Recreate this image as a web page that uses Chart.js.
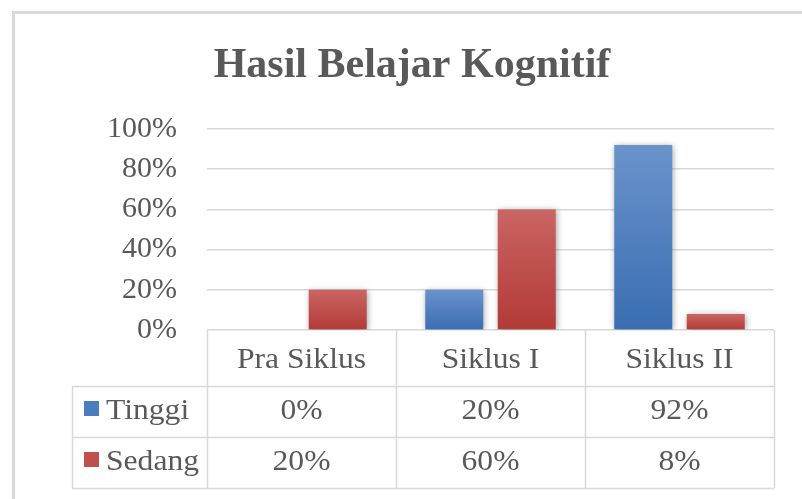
<!DOCTYPE html>
<html lang="id">
<head>
<meta charset="utf-8">
<title>Hasil Belajar Kognitif</title>
<script src="https://cdn.jsdelivr.net/npm/chart.js"></script>
<style>
  html, body { margin: 0; padding: 0; background: #fff; }
  #wrap { width: 802px; height: 499px; }
</style>
</head>
<body>
<div id="wrap"><canvas id="myChart" width="802" height="499"></canvas></div>
<script>
const chartTitle = 'Hasil Belajar Kognitif';
const categories = ['Pra Siklus', 'Siklus I', 'Siklus II'];
const seriesNames = ['Tinggi', 'Sedang'];
const tinggi = [0, 0.20, 0.92];
const sedang = [0.20, 0.60, 0.08];
const yTickValues = [0, 0.2, 0.4, 0.6, 0.8, 1.0];

const grey = '#595959';
const lineGrey = '#d9d9d9';
const serif = "'Liberation Serif', 'Times New Roman', serif";

function pct(v) {
    return Math.round(v * 100) + '%';
}

// each bar gets its own light-to-dark gradient, like the office chart
function barGradient(top, bottom) {
    return function (ctx) {
        const chart = ctx.chart;
        if (!chart.chartArea || ctx.type !== 'data') return bottom;
        const y = chart.scales.y;
        const y0 = y.getPixelForValue(ctx.raw);
        const y1 = y.getPixelForValue(0);
        if (y1 - y0 < 1) return bottom;
        const g = chart.ctx.createLinearGradient(0, y0, 0, y1);
        g.addColorStop(0, top);
        g.addColorStop(1, bottom);
        return g;
    };
}

// table text in the source is a little wider than Liberation Serif
function wideText(c, text, x, y, align) {
    const sx = 1.09;
    c.save();
    c.translate(x, y);
    c.scale(sx, 1);
    c.textAlign = align;
    c.fillText(text, 0, 0);
    c.restore();
}

const frameAndTable = {
    id: 'frameAndTable',
    beforeDraw(chart) {
        const c = chart.ctx;
        c.save();
        c.fillStyle = lineGrey;
        c.fillRect(12, 11, 3, chart.height - 11);
        c.fillRect(12, 11, chart.width - 12, 3);
        c.fillStyle = grey;
        c.font = 'bold 42px ' + serif;
        c.textAlign = 'center';
        c.textBaseline = 'alphabetic';
        c.fillText(chartTitle, 412, 77);
        c.restore();
    },
    beforeDatasetsDraw(chart) {
        const c = chart.ctx;
        c.save();
        c.shadowColor = 'rgba(0,0,0,0.35)';
        c.shadowBlur = 6;
        c.shadowOffsetX = 1;
        c.shadowOffsetY = 1;
    },
    afterDatasetsDraw(chart) {
        chart.ctx.restore();
    },
    afterDraw(chart) {
        const c = chart.ctx;
        const area = chart.chartArea;
        const x = chart.scales.x;
        const colW = (area.right - area.left) / categories.length;
        const tableLeft = 72;
        const rowY = [area.bottom, area.bottom + 56, area.bottom + 107, area.bottom + 158];

        c.save();
        c.strokeStyle = lineGrey;
        c.lineWidth = 1.5;
        c.beginPath();
        // column lines
        for (let i = 0; i <= categories.length; i++) {
            const px = Math.round(area.left + i * colW) + 0.5;
            c.moveTo(px, rowY[0]);
            c.lineTo(px, rowY[3]);
        }
        // row lines
        for (let r = 1; r < rowY.length; r++) {
            c.moveTo(tableLeft, rowY[r] + 0.5);
            c.lineTo(area.right, rowY[r] + 0.5);
        }
        c.moveTo(tableLeft + 0.5, rowY[1]);
        c.lineTo(tableLeft + 0.5, rowY[3]);
        c.stroke();

        c.fillStyle = grey;
        c.font = '29px ' + serif;
        c.textBaseline = 'alphabetic';
        const rows = [tinggi, sedang];
        categories.forEach((cat, i) => {
            const cx = x.getPixelForValue(i);
            wideText(c, cat, cx, rowY[0] + 38, 'center');
            rows.forEach((vals, r) => {
                wideText(c, pct(vals[i]), cx, rowY[r + 1] + 33, 'center');
            });
        });

        // series keys in the first column
        chart.data.datasets.forEach((ds, r) => {
            const top = rowY[r + 1] + 15;
            c.fillStyle = ds.keyColor;
            c.fillRect(84, top, 15, 15);
            c.fillStyle = grey;
            wideText(c, ds.label, 106, rowY[r + 1] + 33, 'left');
        });
        c.restore();
    }
};

const config = {
    type: 'bar',
    data: {
        labels: categories,
        datasets: [{
            label: seriesNames[0],
            data: tinggi,
            keyColor: '#4a7dbf',
            backgroundColor: barGradient('#6a93cb', '#3a6db1'),
            borderWidth: 0,
            categoryPercentage: 0.767,
            barPercentage: 0.8
        }, {
            label: seriesNames[1],
            data: sedang,
            keyColor: '#c0504d',
            backgroundColor: barGradient('#ca6563', '#b33a37'),
            borderWidth: 0,
            categoryPercentage: 0.767,
            barPercentage: 0.8
        }]
    },
    options: {
        responsive: false,
        animation: false,
        layout: { padding: { top: 129, right: 28, bottom: 169, left: 0 } },
        plugins: {
            legend: { display: false },
            tooltip: { enabled: false },
            title: { display: false }
        },
        scales: {
            x: { display: false },
            y: {
                min: 0,
                max: 1,
                afterFit(scale) { scale.width = 207; },
                afterBuildTicks(scale) {
                    scale.ticks = yTickValues.map(v => ({ value: v }));
                },
                ticks: {
                    color: grey,
                    font: { family: serif, size: 30 },
                    padding: 30,
                    callback: v => pct(v)
                },
                grid: { color: lineGrey, lineWidth: 1.5, drawTicks: false },
                border: { display: false }
            }
        }
    },
    plugins: [frameAndTable]
};

new Chart(document.getElementById('myChart'), config);
</script>
</body>
</html>
